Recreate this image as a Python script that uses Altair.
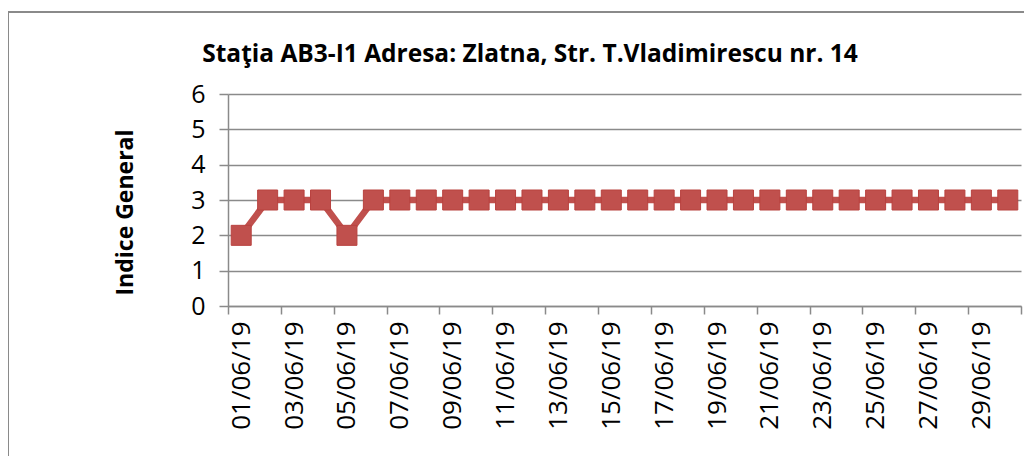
import altair as alt
import pandas as pd

# ---- data ----
dates = [
    "01/06/19", "02/06/19", "03/06/19", "04/06/19", "05/06/19", "06/06/19",
    "07/06/19", "08/06/19", "09/06/19", "10/06/19", "11/06/19", "12/06/19",
    "13/06/19", "14/06/19", "15/06/19", "16/06/19", "17/06/19", "18/06/19",
    "19/06/19", "20/06/19", "21/06/19", "22/06/19", "23/06/19", "24/06/19",
    "25/06/19", "26/06/19", "27/06/19", "28/06/19", "29/06/19", "30/06/19",
]
values = [
    2, 3, 3, 3, 2, 3,
    3, 3, 3, 3, 3, 3,
    3, 3, 3, 3, 3, 3,
    3, 3, 3, 3, 3, 3,
    3, 3, 3, 3, 3, 3,
]
y_ticks = [0, 1, 2, 3, 4, 5, 6]
# category boundaries every second day (ticks between categories)
x_tick_bounds = [0.5, 2.5, 4.5, 6.5, 8.5, 10.5, 12.5, 14.5, 16.5, 18.5,
                 20.5, 22.5, 24.5, 26.5, 28.5, 30.5]

title_text = "Staţia AB3-I1 Adresa: Zlatna, Str. T.Vladimirescu nr. 14"
y_title = "Indice General"

df = pd.DataFrame({"day": list(range(1, len(dates) + 1)), "date": dates, "value": values})

FONT = "Open Sans"
RED = "#C0504D"
GRAY = "#8a8a8a"
PLOT_W = 793
PLOT_H = 212

label_arr = "[" + ",".join("'" + d + "'" for d in dates) + "]"
label_expr = label_arr + "[round(datum.value - 0.5)] || ''"

x_enc = alt.X(
    "day:Q",
    scale=alt.Scale(domain=[0.5, len(dates) + 0.5], nice=False, zero=False),
    axis=alt.Axis(
        values=x_tick_bounds,
        labelExpr=label_expr,
        labelAngle=-90,
        labelAlign="right",
        labelBaseline="middle",
        labelOffset=PLOT_W / len(dates) / 2,
        labelPadding=7,
        labelFontSize=26,
        labelFont=FONT,
        labelColor="black",
        labelOverlap=False,
        labelFlush=False,
        labelBound=False,
        tickSize=8,
        tickColor=GRAY,
        tickWidth=1.5,
        domainColor=GRAY,
        domainWidth=1.5,
        grid=False,
        title=None,
    ),
)

y_enc = alt.Y(
    "value:Q",
    scale=alt.Scale(domain=[0, 6], nice=False),
    axis=alt.Axis(
        values=y_ticks,
        format="d",
        labelFontSize=25,
        labelFont=FONT,
        labelColor="black",
        labelPadding=14,
        tickSize=9,
        tickColor=GRAY,
        tickWidth=1.5,
        domainColor=GRAY,
        domainWidth=1.5,
        grid=True,
        gridColor=GRAY,
        gridWidth=1.5,
        title=y_title,
        titleFont=FONT,
        titleFontSize=23,
        titleFontWeight="bold",
        titleColor="black",
        titleX=-103,
        titleY=PLOT_H / 2 + 12,
        titleAngle=-90,
        titleAlign="center",
        titleBaseline="middle",
    ),
)

frame = alt.Chart(pd.DataFrame({"k": [0]})).mark_rect(
    fillOpacity=0, stroke=GRAY, strokeWidth=2
).encode(
    x=alt.value(-220), x2=alt.value(2000), y=alt.value(-82), y2=alt.value(1000)
)

title = alt.Chart(pd.DataFrame({"t": [title_text]})).mark_text(
    font=FONT, fontSize=24.5, fontWeight="bold", color="black",
    align="center", baseline="alphabetic"
).encode(x=alt.value(302), y=alt.value(-32), text="t:N")

line = alt.Chart(df).mark_line(color=RED, strokeWidth=6.5).encode(x=x_enc, y=y_enc)
points = alt.Chart(df).mark_point(
    shape="square", filled=True, size=400, color=RED, opacity=1,
    stroke="#B8423F", strokeWidth=1
).encode(x=x_enc, y=y_enc)

chart = alt.layer(frame, title, line, points).properties(
    width=PLOT_W,
    height=PLOT_H,
    autosize="none",
    padding={"left": 220, "top": 86, "right": 3, "bottom": 150},
).configure_view(stroke=None)

chart.save("out.html", embed_options={"renderer": "svg", "actions": False})
